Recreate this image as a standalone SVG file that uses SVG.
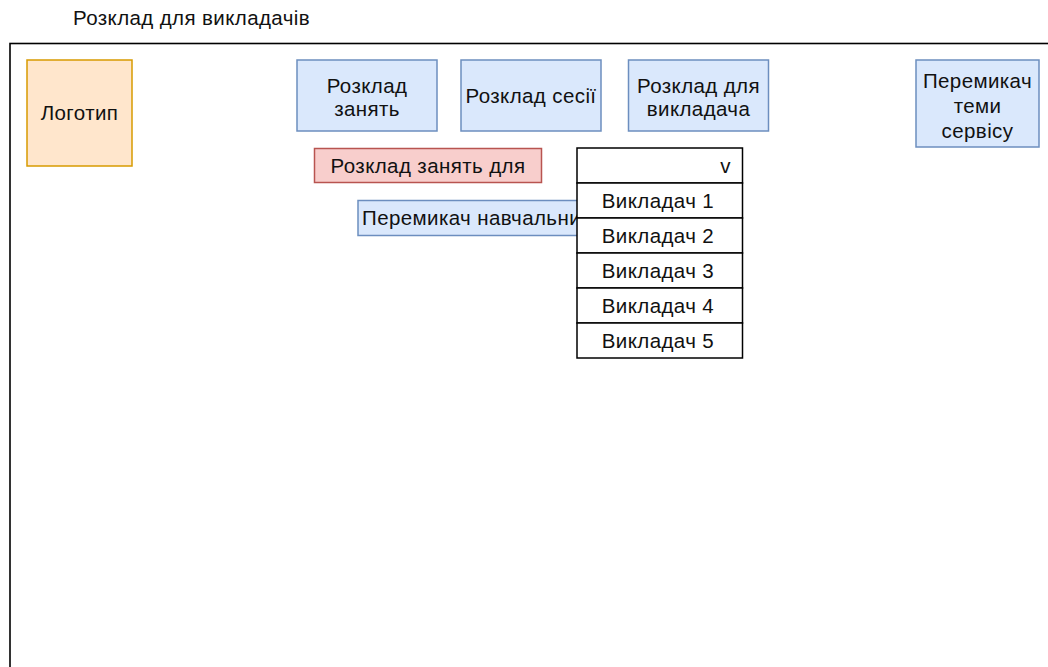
<svg xmlns="http://www.w3.org/2000/svg" width="1048" height="667" viewBox="0 0 1048 667">
<style>
text{font-family:"Liberation Sans",Arial,Helvetica,sans-serif;font-size:20.5px;fill:#111;letter-spacing:0.4px}
.c{text-anchor:middle}
.blue{fill:#dae8fc;stroke:#6c8ebf;stroke-width:1.5}
.orange{fill:#ffe6cc;stroke:#d79b00;stroke-width:1.5}
.red{fill:#f8cecc;stroke:#b85450;stroke-width:1.5}
.row{fill:#fff;stroke:#000;stroke-width:1.5}
</style>
<rect width="1048" height="667" fill="#fff"/>
<text x="73" y="25">Розклад для викладачів</text>
<g id="frame"><rect x="10" y="43.5" width="1100" height="700" fill="none" stroke="#000" stroke-width="1.6"/></g>
<g id="logo"><rect class="orange" x="27" y="60" width="105" height="106"/><text class="c" x="79.5" y="120">Логотип</text></g>
<g id="nav-classes"><rect class="blue" x="297" y="60" width="140" height="71"/><text class="c" x="367" y="93">Розклад</text><text class="c" x="367" y="116">занять</text></g>
<g id="nav-session"><rect class="blue" x="461" y="60" width="140" height="71"/><text class="c" x="531" y="103">Розклад сесії</text></g>
<g id="nav-teacher"><rect class="blue" x="628.5" y="60" width="140" height="71"/><text class="c" x="698.5" y="93">Розклад для</text><text class="c" x="698.5" y="116">викладача</text></g>
<g id="theme-switch"><rect class="blue" x="916" y="60" width="123" height="87"/><text class="c" x="977.5" y="88">Перемикач</text><text class="c" x="977.5" y="113">теми</text><text class="c" x="977.5" y="138">сервісу</text></g>
<g id="label-for"><rect class="red" x="314.5" y="148.5" width="227" height="34"/><text class="c" x="428" y="173">Розклад занять для</text></g>
<g id="year-switch"><rect class="blue" x="358" y="200.5" width="300" height="35"/><text x="362" y="225">Перемикач навчальни</text></g>
<g id="dropdown">
<rect class="row" x="577" y="148" width="165.5" height="35"/><text x="731" y="173" style="text-anchor:end">v</text>
<rect class="row" x="577" y="183" width="165.5" height="35"/><text class="c" x="658" y="208">Викладач 1</text>
<rect class="row" x="577" y="218" width="165.5" height="35"/><text class="c" x="658" y="243">Викладач 2</text>
<rect class="row" x="577" y="253" width="165.5" height="35"/><text class="c" x="658" y="278">Викладач 3</text>
<rect class="row" x="577" y="288" width="165.5" height="35"/><text class="c" x="658" y="313">Викладач 4</text>
<rect class="row" x="577" y="323" width="165.5" height="35"/><text class="c" x="658" y="348">Викладач 5</text>
</g>
<g id="connectors"></g>
</svg>
